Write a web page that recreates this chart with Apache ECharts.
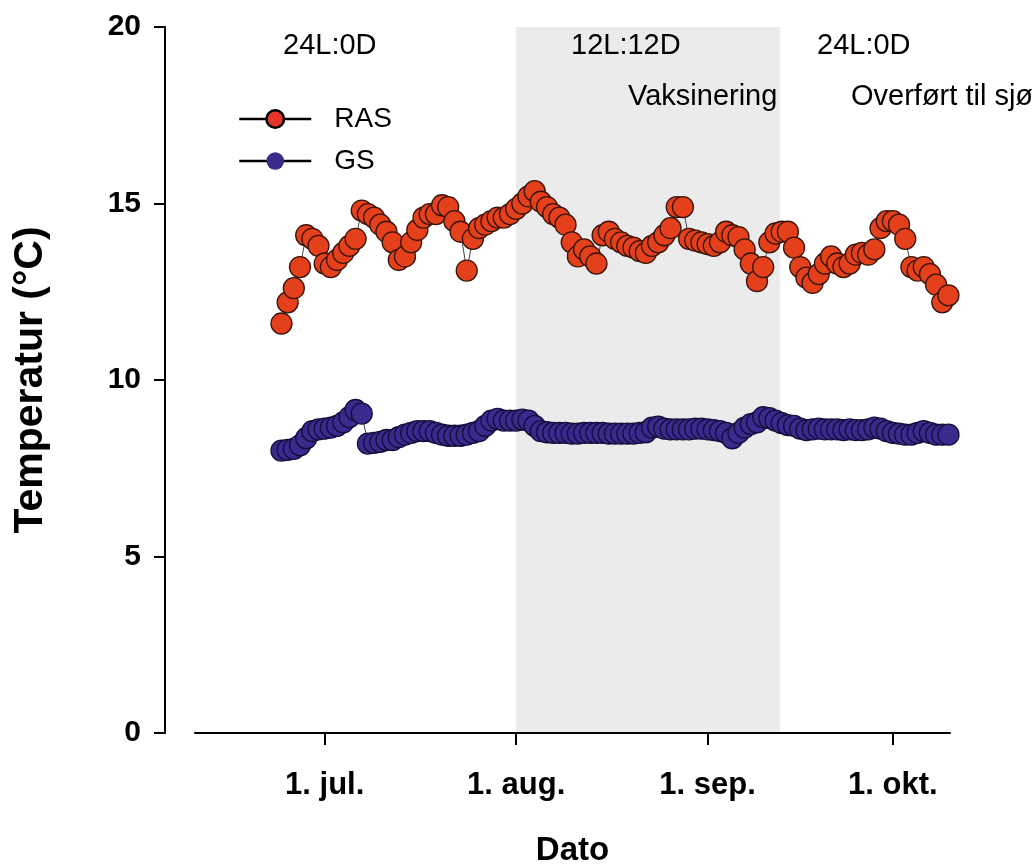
<!DOCTYPE html>
<html>
<head>
<meta charset="utf-8">
<script src="https://cdn.jsdelivr.net/npm/echarts@6/dist/echarts.min.js"></script>
<style>
html, body { margin: 0; padding: 0; background: #fff; }
#chart { width: 1032px; height: 866px; }
</style>
</head>
<body>
<div id="chart"></div>
<script>
// daily readings, first one on 24 June
var startDay = [2019, 5, 24];
var rasValues = [
    11.6, 12.2, 12.6, 13.2, 14.1, 14.0, 13.8, 13.3, 13.2, 13.4,
    13.6, 13.8, 14.0, 14.8, 14.7, 14.6, 14.4, 14.2, 13.9, 13.4,
    13.5, 13.9, 14.25, 14.6, 14.7, 14.7, 14.95, 14.9, 14.5, 14.2,
    13.1, 14.0, 14.3, 14.4, 14.5, 14.6, 14.6, 14.7, 14.85, 15.0,
    15.2, 15.35, 15.05, 14.9, 14.7, 14.6, 14.4, 13.9, 13.5, 13.7,
    13.5, 13.3, 14.1, 14.2, 14.0, 13.9, 13.8, 13.75, 13.65, 13.6,
    13.8, 13.9, 14.1, 14.3, 14.9, 14.9, 14.0, 13.95, 13.9, 13.85,
    13.8, 13.9, 14.2, 14.1, 14.05, 13.7, 13.3, 12.8, 13.2, 13.9,
    14.15, 14.2, 14.2, 13.75, 13.2, 12.9, 12.75, 13.0, 13.3, 13.5,
    13.3, 13.2, 13.3, 13.55, 13.6, 13.55, 13.7, 14.3, 14.5, 14.5,
    14.4, 14.0, 13.2, 13.1, 13.2, 13.0, 12.7, 12.2, 12.4
];
var gsValues = [
    8.0, 8.02, 8.05, 8.15, 8.35, 8.55, 8.6, 8.62, 8.65, 8.7,
    8.8, 8.95, 9.15, 9.05, 8.2, 8.22, 8.25, 8.3, 8.3, 8.38,
    8.45, 8.5, 8.55, 8.55, 8.55, 8.5, 8.45, 8.42, 8.42, 8.42,
    8.45, 8.5, 8.55, 8.7, 8.85, 8.9, 8.85, 8.85, 8.85, 8.88,
    8.85, 8.7, 8.55, 8.52, 8.5, 8.5, 8.5, 8.48, 8.48, 8.5,
    8.5, 8.5, 8.5, 8.48, 8.48, 8.48, 8.48, 8.48, 8.5, 8.52,
    8.65, 8.68, 8.62, 8.6, 8.6, 8.6, 8.6, 8.62, 8.62, 8.6,
    8.58, 8.55, 8.5, 8.35, 8.5, 8.65, 8.75, 8.8, 8.95, 8.92,
    8.85, 8.78, 8.72, 8.7, 8.62, 8.58, 8.6, 8.62, 8.6, 8.6,
    8.6, 8.58, 8.6, 8.58, 8.58, 8.6, 8.65, 8.62, 8.55, 8.5,
    8.48, 8.45, 8.45, 8.5, 8.55, 8.5, 8.45, 8.45, 8.45
];
var monthTicks = [[2019, 6, 1], [2019, 7, 1], [2019, 8, 1], [2019, 9, 1]];
var monthNames = ['jan.', 'feb.', 'mar.', 'apr.', 'mai', 'jun.', 'jul.', 'aug.', 'sep.', 'okt.', 'nov.', 'des.'];
var axisStart = [2019, 5, 10];
var axisEnd = [2019, 9, 10.25];
var lightPeriod = [[2019, 7, 1], [2019, 8, 12.7]];

// x is counted in days since 1 jan 2019 (UTC, no DST jumps)
var DAY = 86400000;
var base = Date.UTC(2019, 0, 1);
function dayNum(y, m, d) {
    return (Date.UTC(y, m, 1) - base) / DAY + d - 1;
}
function toSeries(values) {
    var s = dayNum(startDay[0], startDay[1], startDay[2]);
    return values.map(function (v, i) { return [s + i, v]; });
}
function dayLabel(x) {
    var d = new Date(base + Math.round(x) * DAY);
    return d.getUTCDate() + '. ' + monthNames[d.getUTCMonth()];
}

var tickDays = monthTicks.map(function (d) { return dayNum(d[0], d[1], d[2]); });
var font = 'Liberation Sans';
var noteFont = '29px "Liberation Sans"';

var chart = echarts.init(document.getElementById('chart'));
var option = {
    backgroundColor: '#fff',
    animation: false,
    textStyle: { fontFamily: font },
    grid: { left: 195, right: 82, top: 27, bottom: 133, containLabel: false, outerBoundsMode: 'none' },
    legend: {
        orient: 'vertical',
        left: 233,
        top: 100,
        itemWidth: 72,
        itemHeight: 22,
        itemGap: 14,
        lineStyle: { color: '#000', width: 2.5 },
        textStyle: { fontSize: 28, color: '#000', fontFamily: font, padding: [0, 0, 0, 18] },
        data: [
            { name: 'RAS', itemStyle: { color: '#e8352b', borderColor: '#000', borderWidth: 2.5 } },
            { name: 'GS', itemStyle: { color: '#3b2a8a', borderWidth: 0 } }
        ]
    },
    xAxis: {
        type: 'value',
        min: dayNum(axisStart[0], axisStart[1], axisStart[2]),
        max: dayNum(axisEnd[0], axisEnd[1], axisEnd[2]),
        name: 'Dato',
        nameLocation: 'middle',
        nameGap: 101,
        nameTextStyle: { fontSize: 33, fontWeight: 'bold', color: '#000' },
        axisLine: { lineStyle: { color: '#000', width: 2 } },
        axisTick: { customValues: tickDays, length: 12, lineStyle: { color: '#000', width: 2 } },
        axisLabel: {
            customValues: tickDays,
            margin: 37,
            fontSize: 31,
            fontWeight: 'bold',
            color: '#000',
            formatter: dayLabel
        },
        splitLine: { show: false }
    },
    yAxis: {
        type: 'value',
        min: 0,
        max: 20,
        interval: 5,
        offset: 30,
        name: 'Temperatur (°C)',
        nameLocation: 'middle',
        nameGap: 114,
        nameTextStyle: { fontSize: 41, fontWeight: 'bold', color: '#000' },
        axisLine: { show: true, lineStyle: { color: '#000', width: 2 } },
        axisTick: { show: true, length: 11, lineStyle: { color: '#000', width: 2 } },
        axisLabel: { margin: 24, fontSize: 30, fontWeight: 'bold', color: '#000' },
        splitLine: { show: false }
    },
    graphic: [
        { type: 'text', z: 100, left: 283, top: 31, style: { text: '24L:0D', font: noteFont, fill: '#000' } },
        { type: 'text', z: 100, left: 571, top: 31, style: { text: '12L:12D', font: noteFont, fill: '#000' } },
        { type: 'text', z: 100, left: 817, top: 31, style: { text: '24L:0D', font: noteFont, fill: '#000' } },
        { type: 'text', z: 100, left: 628, top: 82, style: { text: 'Vaksinering', font: noteFont, fill: '#000' } },
        { type: 'text', z: 100, left: 851, top: 82, style: { text: 'Overført til sjø', font: noteFont, fill: '#000' } }
    ],
    series: [
        {
            name: 'RAS',
            type: 'line',
            data: toSeries(rasValues),
            symbol: 'circle',
            symbolSize: 21,
            lineStyle: { color: '#444', width: 1 },
            itemStyle: { color: '#e4401c', borderColor: '#3a1408', borderWidth: 1.3 },
            z: 3,
            markArea: {
                silent: true,
                z: 0,
                itemStyle: { color: '#ebebeb' },
                data: [[
                    { xAxis: dayNum(lightPeriod[0][0], lightPeriod[0][1], lightPeriod[0][2]) },
                    { xAxis: dayNum(lightPeriod[1][0], lightPeriod[1][1], lightPeriod[1][2]) }
                ]]
            }
        },
        {
            name: 'GS',
            type: 'line',
            data: toSeries(gsValues),
            symbol: 'circle',
            symbolSize: 21,
            lineStyle: { color: '#444', width: 1 },
            itemStyle: { color: '#392a8e', borderColor: '#150d3a', borderWidth: 1.3 },
            z: 2
        }
    ]
};
chart.setOption(option);
</script>
</body>
</html>
